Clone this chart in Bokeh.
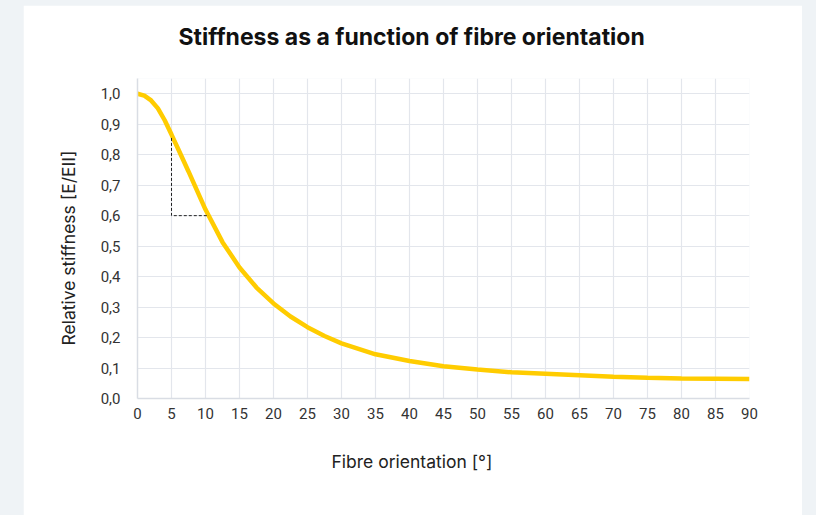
from bokeh.plotting import figure
from bokeh.models import FixedTicker, CustomJSTickFormatter, Range1d, Spacer, Title
from bokeh.layouts import row, column
from bokeh.embed import file_html
from bokeh.resources import INLINE

# ---- data ----
angle = [0, 1, 2, 3, 4, 5, 6, 7.5, 10, 12.5, 15, 17.5, 20, 22.5, 25, 27.5, 30,
         35, 40, 45, 50, 55, 60, 65, 70, 75, 80, 85, 90]
stiffness = [1.0, 0.994, 0.978, 0.952, 0.913, 0.866, 0.818, 0.745, 0.620, 0.513,
             0.430, 0.364, 0.312, 0.269, 0.234, 0.205, 0.181,
             0.145, 0.123, 0.106, 0.095, 0.086, 0.081, 0.076, 0.071, 0.068,
             0.066, 0.065, 0.064]
dash_x = [5, 5, 10.5]
dash_y = [0.855, 0.6, 0.6]
x_ticks = [0, 5, 10, 15, 20, 25, 30, 35, 40, 45, 50, 55, 60, 65, 70, 75, 80, 85, 90]
y_ticks = [0.0, 0.1, 0.2, 0.3, 0.4, 0.5, 0.6, 0.7, 0.8, 0.9, 1.0]
title_text = "Stiffness as a function of fibre orientation"
x_label = "Fibre orientation [°]"
y_label = "Relative stiffness [E/EII]"

TICK_FONT = "Roboto"

p = figure(width=779, height=510, output_backend="svg", toolbar_location=None,
           x_range=Range1d(0, 90), y_range=Range1d(0, 1.05),
           min_border_left=114, min_border_right=53,
           min_border_top=73, min_border_bottom=117, title=None)
p.background_fill_color = "white"
p.border_fill_color = "white"
p.outline_line_color = None

# spacer title between frame and main title (closest to frame), then the main title
p.add_layout(Title(text=" ", standoff=20, text_font_size="1px"), "above")
p.add_layout(Title(text=title_text, align="left", offset=41, standoff=10,
                   text_font="Inter", text_font_style="bold", text_font_size="23px",
                   text_color="#111111"), "above")

p.xaxis.ticker = FixedTicker(ticks=x_ticks)
p.yaxis.ticker = FixedTicker(ticks=y_ticks)
p.yaxis.formatter = CustomJSTickFormatter(code="return tick.toFixed(1).replace('.', ',');")
for ax in (p.xaxis, p.yaxis):
    ax.axis_line_color = "#d9dde4"
    ax.axis_line_width = 1.5
    ax.major_tick_line_color = None
    ax.minor_tick_line_color = None
    ax.major_label_text_font = TICK_FONT
    ax.major_label_text_font_size = "15px"
    ax.major_label_text_color = "#333333"
p.xaxis.major_label_standoff = 3
p.yaxis.major_label_standoff = 11

p.add_layout(Title(text=y_label, align="left", offset=53, standoff=38,
                   text_font="Inter", text_font_style="normal", text_font_size="17.5px",
                   text_color="#222222"), "left")

p.add_layout(Title(text=x_label, align="left", offset=194, standoff=55,
                   text_font="Inter", text_font_style="normal", text_font_size="17.5px",
                   text_color="#222222"), "below")

p.grid.grid_line_color = "#e3e6ec"
p.grid.grid_line_width = 1.2
p.xgrid.ticker = FixedTicker(ticks=x_ticks)
p.ygrid.ticker = FixedTicker(ticks=y_ticks)

p.line(angle, stiffness, line_color="#FFCC00", line_width=4.5)
p.line(dash_x, dash_y, line_color="#222222", line_width=1, line_dash="3 2")

layout = column(
    Spacer(width=816, height=5),
    row(Spacer(width=23, height=510), p, Spacer(width=14, height=510)),
    styles={"background-color": "#eff3f6"},
)

open("out.html", "w").write(file_html(layout, INLINE))
